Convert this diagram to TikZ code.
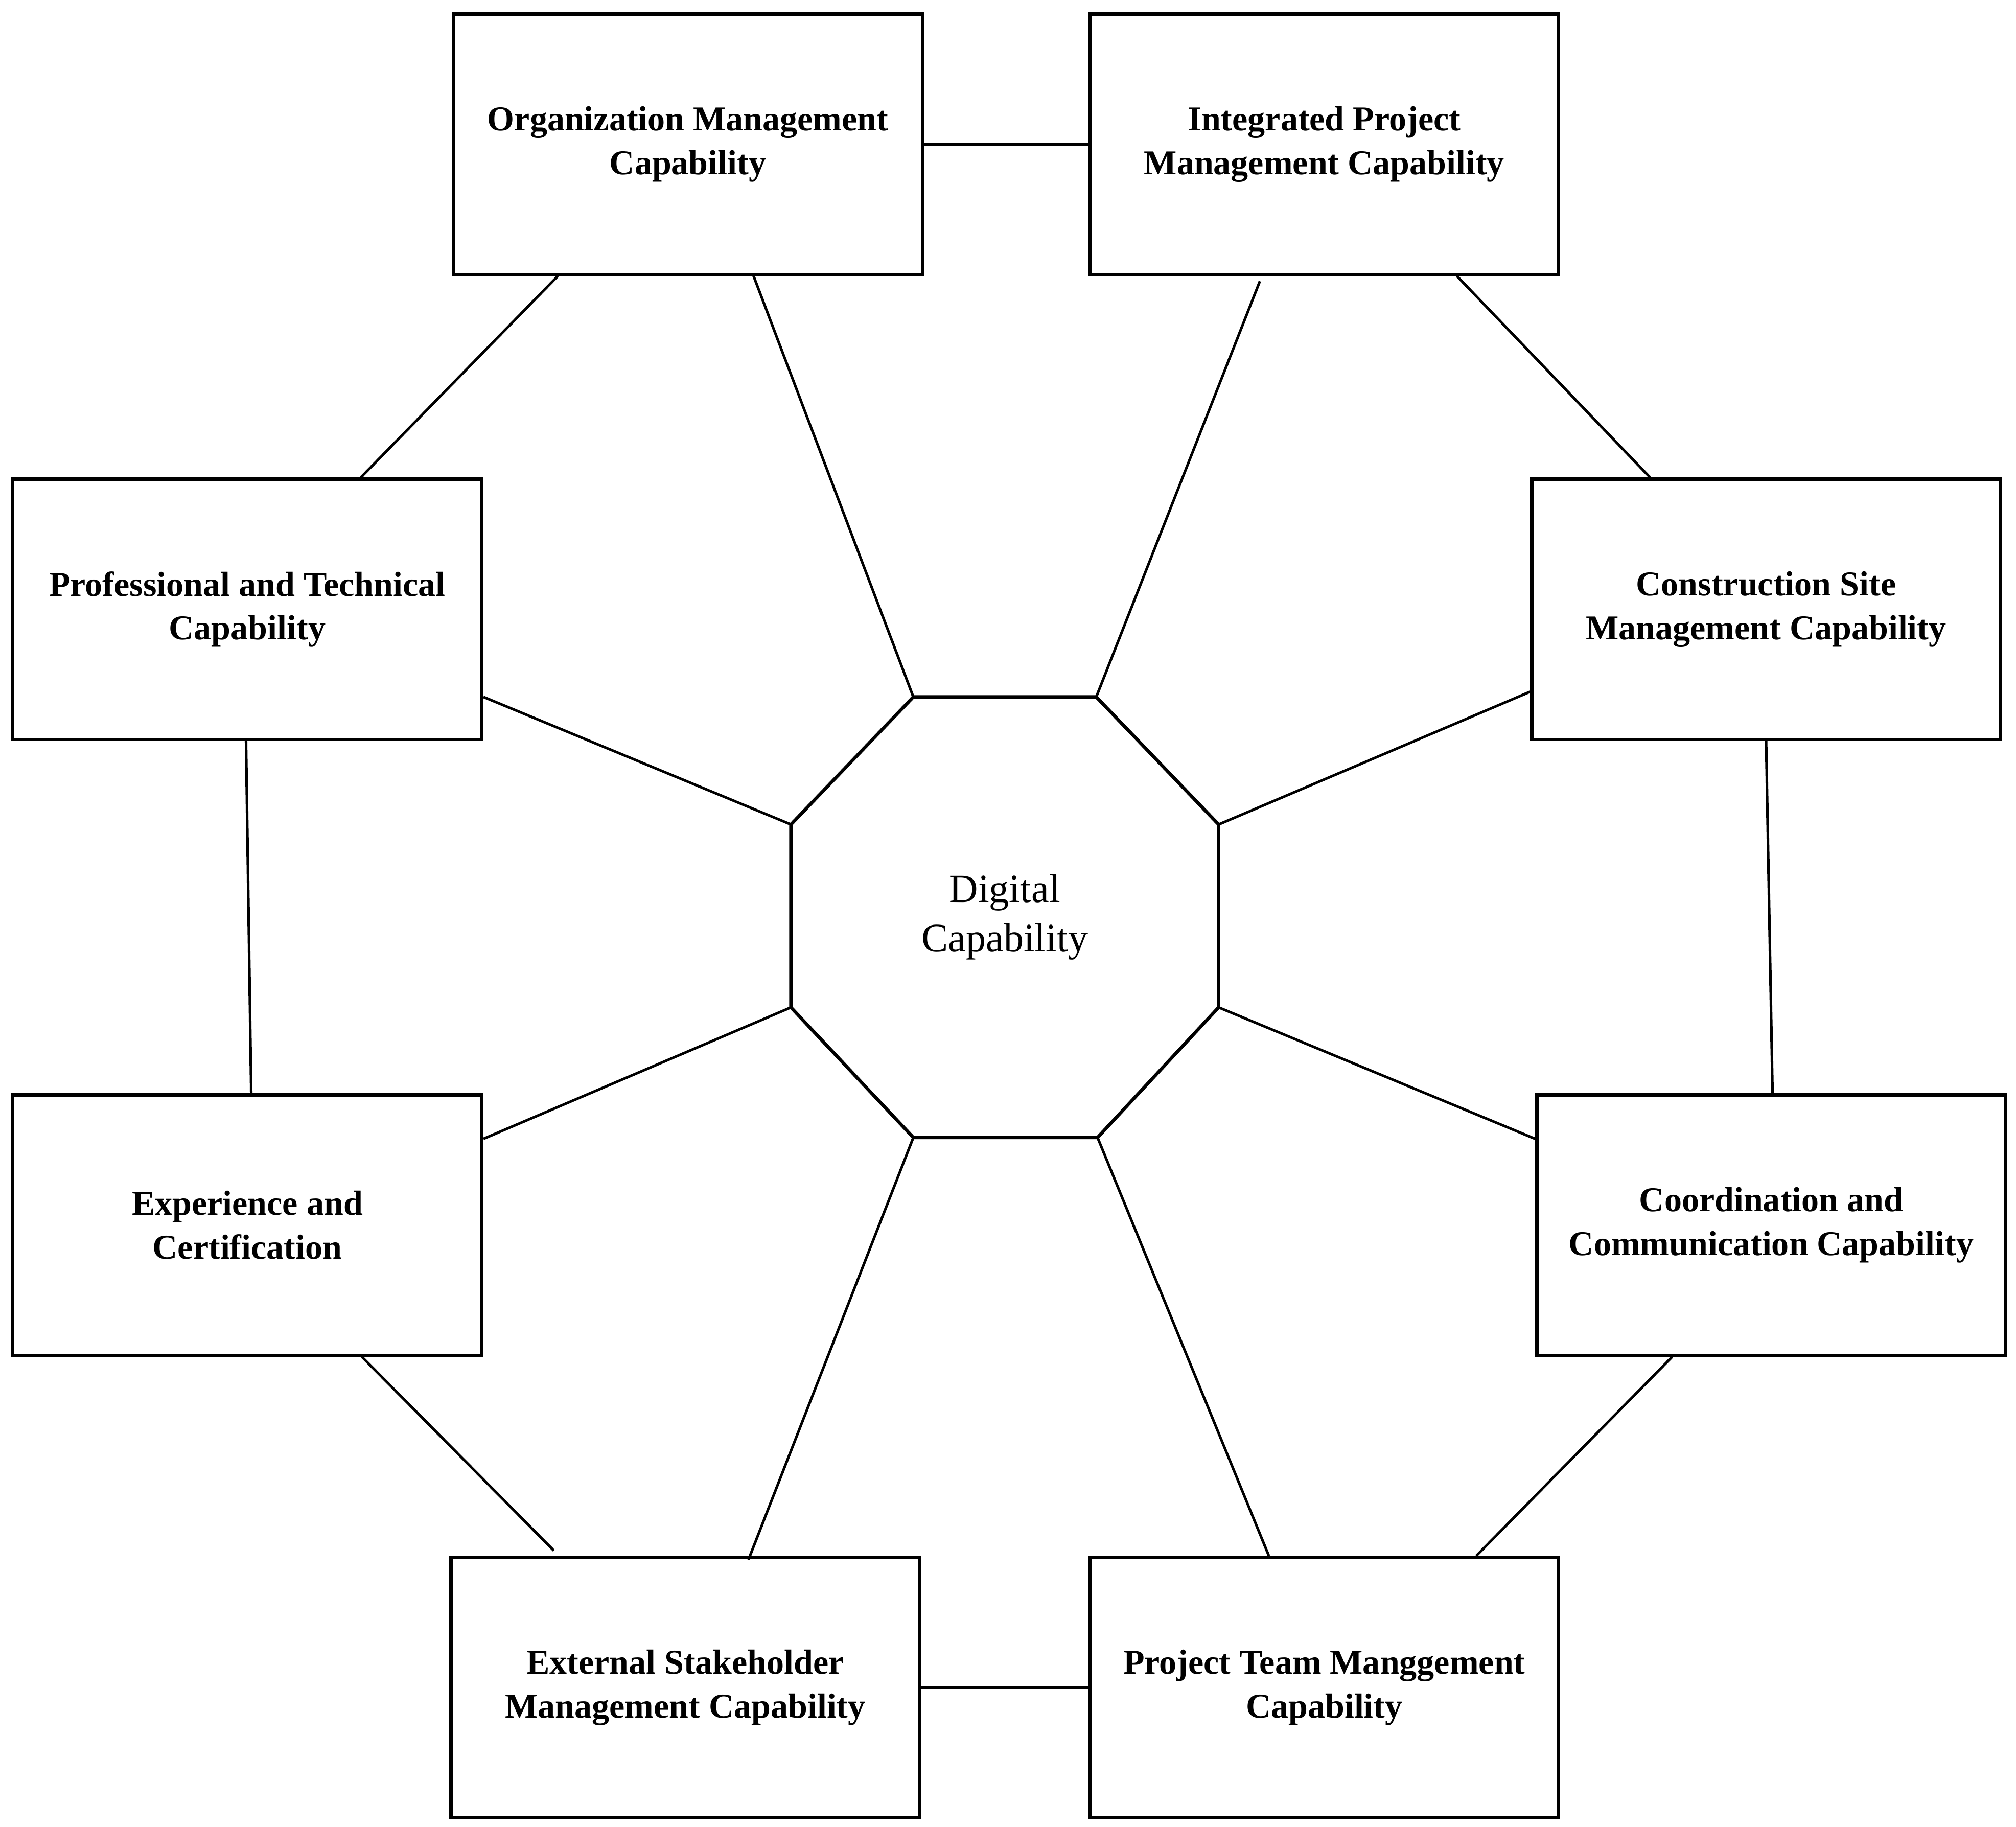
\documentclass[tikz,border=0pt]{standalone}
\usepackage{fontspec}
\setmainfont{Liberation Serif}
\begin{document}
\begin{tikzpicture}[x=1pt,y=-1pt,
  box/.style={draw,line width=2.6pt,minimum width=364pt,minimum height=202pt,align=center,font=\fontsize{27}{34}\selectfont\bfseries},
  ln/.style={line width=2pt}]
\useasboundingbox (0,0) rectangle (1565,1418);
\node[box] (om) at (534,112) {Organization Management\\Capability};
\node[box] (ipm) at (1028,112) {Integrated Project\\Management Capability};
\node[box] (pt) at (192,473) {Professional and Technical\\Capability};
\node[box] (cs) at (1371,473) {Construction Site\\Management Capability};
\node[box] (ec) at (192,951) {Experience and\\Certification};
\node[box] (cc) at (1375,951) {Coordination and\\Communication Capability};
\node[box] (es) at (532,1310) {External Stakeholder\\Management Capability};
\node[box] (ptm) at (1028,1310) {Project Team Manggement\\Capability};
\coordinate (o1) at (709,541); \coordinate (o2) at (851,541);
\coordinate (o3) at (946,640); \coordinate (o4) at (946,782);
\coordinate (o5) at (852,883); \coordinate (o6) at (709,883);
\coordinate (o7) at (614,782); \coordinate (o8) at (614,640);
\draw[line width=2.6pt,line join=miter] (o1)--(o2)--(o3)--(o4)--(o5)--(o6)--(o7)--(o8)--cycle;
\node[align=center,font=\fontsize{31}{38}\selectfont] (dc) at (780,712) {Digital\\Capability};
\draw[ln] (om.east) -- (ipm.west);
\draw[ln] (es.east) -- (ptm.west);
\draw[ln] ([xshift=-101pt]om.south) -- ([xshift=88pt]pt.north);
\draw[ln] ([xshift=51pt]om.south) -- (o1);
\draw[ln] ([xshift=-50pt,yshift=-4pt]ipm.south) -- (o2);
\draw[ln] ([xshift=103pt]ipm.south) -- ([xshift=-90pt]cs.north);
\draw[ln] ([yshift=-68pt]pt.east) -- (o8);
\draw[ln] ([yshift=-64pt]cs.west) -- (o3);
\draw[ln] ([xshift=-1pt]pt.south) -- ([xshift=3pt]ec.north);
\draw[ln] (cs.south) -- ([xshift=1pt]cc.north);
\draw[ln] ([yshift=67pt]ec.east) -- (o7);
\draw[ln] ([yshift=67pt]cc.west) -- (o4);
\draw[ln] ([xshift=89pt]ec.south) -- ([xshift=-102pt,yshift=4pt]es.north);
\draw[ln] ([xshift=-77pt]cc.south) -- ([xshift=118pt]ptm.north);
\draw[ln] ([xshift=49pt,yshift=-3pt]es.north) -- (o6);
\draw[ln] ([xshift=-43pt]ptm.north) -- (o5);
\end{tikzpicture}
\end{document}
